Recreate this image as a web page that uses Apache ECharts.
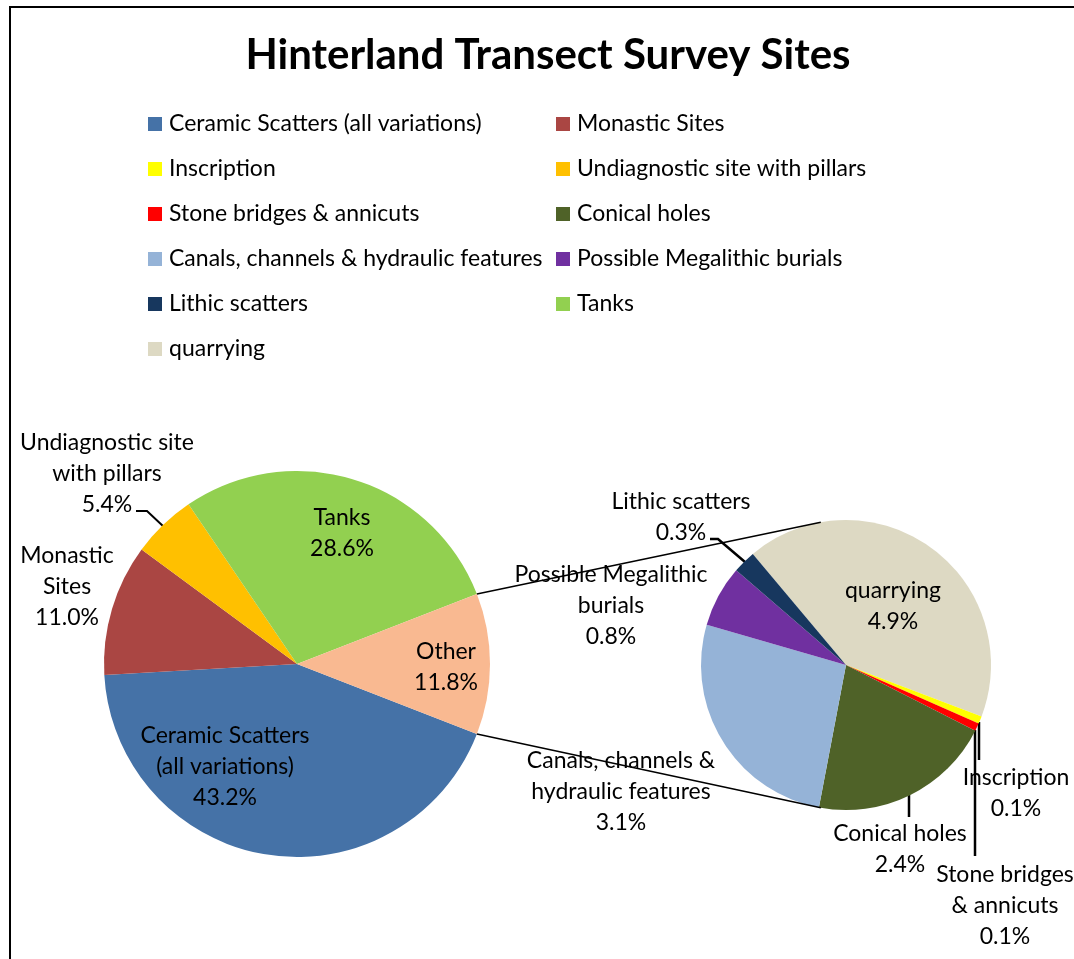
<!DOCTYPE html>
<html>
<head>
<meta charset="utf-8">
<script src="https://cdn.jsdelivr.net/npm/echarts@6/dist/echarts.min.js"></script>
<style>html,body{margin:0;padding:0;background:#fff}#c{width:1074px;height:959px}</style>
</head>
<body>
<div id="c"></div>
<script>
// ---- data ----
const titleText = 'Hinterland Transect Survey Sites';
const mainNames = ['Ceramic Scatters (all variations)', 'Monastic Sites', 'Undiagnostic site with pillars', 'Tanks', 'Other'];
const mainValues = [43.2, 11.0, 5.4, 28.6, 11.8];
const secNames = ['quarrying', 'Inscription', 'Stone bridges & annicuts', 'Conical holes', 'Canals, channels & hydraulic features', 'Possible Megalithic burials', 'Lithic scatters'];
const secValues = [4.9, 0.1, 0.1, 2.4, 3.1, 0.8, 0.3];
const legendLeft = ['Ceramic Scatters (all variations)', 'Inscription', 'Stone bridges & annicuts', 'Canals, channels & hydraulic features', 'Lithic scatters', 'quarrying'];
const legendRight = ['Monastic Sites', 'Undiagnostic site with pillars', 'Conical holes', 'Possible Megalithic burials', 'Tanks'];

// ---- styles ----
const colors = {
  'Ceramic Scatters (all variations)': '#4572A7',
  'Monastic Sites': '#AA4643',
  'Undiagnostic site with pillars': '#FFC000',
  'Tanks': '#92D050',
  'Other': '#F9B991',
  'quarrying': '#DDD9C3',
  'Inscription': '#FFFF00',
  'Stone bridges & annicuts': '#FF0000',
  'Conical holes': '#4F6228',
  'Canals, channels & hydraulic features': '#95B3D7',
  'Possible Megalithic burials': '#7030A0',
  'Lithic scatters': '#17375E'
};
const labelText = {
  'Ceramic Scatters (all variations)': 'Ceramic Scatters\n(all variations)',
  'Monastic Sites': 'Monastic\nSites',
  'Undiagnostic site with pillars': 'Undiagnostic site\nwith pillars',
  'Tanks': 'Tanks',
  'Other': 'Other',
  'quarrying': 'quarrying',
  'Inscription': 'Inscription',
  'Stone bridges & annicuts': 'Stone bridges\n& annicuts',
  'Conical holes': 'Conical holes',
  'Canals, channels & hydraulic features': 'Canals, channels &\nhydraulic features',
  'Possible Megalithic burials': 'Possible Megalithic\nburials',
  'Lithic scatters': 'Lithic scatters'
};
// label block centres and leader lines (layout only)
const labelPos = {
  'Ceramic Scatters (all variations)': [225, 767],
  'Monastic Sites': [67, 587],
  'Undiagnostic site with pillars': [107, 474, [[136, 511], [147, 511], [164, 527]]],
  'Tanks': [342, 533],
  'Other': [446, 667],
  'quarrying': [893, 606],
  'Inscription': [1016, 793, [[979, 760], [979, 722]]],
  'Stone bridges & annicuts': [1005, 906, [[975, 856], [975, 730]]],
  'Conical holes': [900, 849, [[909, 817], [909, 795]]],
  'Canals, channels & hydraulic features': [621, 792],
  'Possible Megalithic burials': [611, 606],
  'Lithic scatters': [681, 517, [[710, 539], [718, 539], [745, 562]]]
};
const FONT = 'Lato';
const MAIN_C = [297, 664], MAIN_R = 193;
const SEC_C = [846, 665], SEC_R = 145;
const SEC_TANGENT_DEG = 100;

function buildData(names, values) {
  return names.map((n, i) => ({
    name: n,
    value: values[i],
    itemStyle: { color: colors[n] },
    labelLine: { show: !!(labelPos[n] && labelPos[n][2]) }
  }));
}
function fmt(p) { return labelText[p.name] + '\n' + p.value.toFixed(1) + '%'; }
function layoutFn(names) {
  return function (params) {
    const n = names[params.dataIndex];
    const p = labelPos[n];
    const r = { x: p[0], y: p[1], align: 'center', verticalAlign: 'middle' };
    if (p[2]) r.labelLinePoints = p[2];
    return r;
  };
}

// connector lines computed from pie geometry
const mainSum = mainValues.reduce((a, b) => a + b, 0);
const otherHalf = mainValues[4] / mainSum * Math.PI; // half angle in radians
const secA = SEC_TANGENT_DEG * Math.PI / 180;
const connTop = {
  x1: MAIN_C[0] + MAIN_R * Math.cos(otherHalf), y1: MAIN_C[1] - MAIN_R * Math.sin(otherHalf),
  x2: SEC_C[0] + SEC_R * Math.cos(secA), y2: SEC_C[1] - SEC_R * Math.sin(secA)
};
const connBot = {
  x1: MAIN_C[0] + MAIN_R * Math.cos(otherHalf), y1: MAIN_C[1] + MAIN_R * Math.sin(otherHalf),
  x2: SEC_C[0] + SEC_R * Math.cos(secA), y2: SEC_C[1] + SEC_R * Math.sin(secA)
};

const labelStyle = {
  show: true, position: 'outside', formatter: fmt, color: '#000',
  fontFamily: FONT, fontSize: 23, lineHeight: 31
};
const legendCommon = {
  orient: 'vertical', itemWidth: 14, itemHeight: 14, itemGap: 0, padding: 0,
  icon: 'rect', selectedMode: false,
  textStyle: { fontFamily: FONT, fontSize: 23, lineHeight: 45, color: '#000', padding: [0, 0, 0, 2] }
};

const chart = echarts.init(document.getElementById('c'), null, { renderer: 'canvas' });
chart.setOption({
  animation: false,
  backgroundColor: '#fff',
  legend: [
    Object.assign({ left: 148, top: 101.5, data: legendLeft }, legendCommon),
    Object.assign({ left: 556, top: 101.5, data: legendRight }, legendCommon)
  ],
  graphic: [
    { type: 'rect', shape: { x: 10, y: 7, width: 1200, height: 1100 }, style: { fill: 'none', stroke: '#000', lineWidth: 2 }, silent: true, z: 0 },
    { type: 'text', x: 548, y: 55, silent: true, z: 100,
      style: { text: titleText, textAlign: 'center', textVerticalAlign: 'middle', fill: '#000',
               fontFamily: FONT, fontWeight: 'bold', fontSize: 42 } },
    { type: 'line', shape: connTop, style: { stroke: '#000', lineWidth: 1.5 }, z: 100, silent: true },
    { type: 'line', shape: connBot, style: { stroke: '#000', lineWidth: 1.5 }, z: 100, silent: true }
  ],
  series: [
    {
      type: 'pie', center: MAIN_C, radius: MAIN_R, clockwise: true,
      startAngle: -(mainValues[4] / mainSum * 180),
      avoidLabelOverlap: false, data: buildData(mainNames, mainValues),
      label: labelStyle,
      labelLine: { lineStyle: { color: '#000', width: 2 }, length: 10, length2: 10, smooth: false },
      labelLayout: layoutFn(mainNames),
      emphasis: { disabled: true }
    },
    {
      type: 'pie', center: SEC_C, radius: SEC_R, clockwise: true, startAngle: 130,
      avoidLabelOverlap: false, data: buildData(secNames, secValues),
      label: labelStyle,
      labelLine: { lineStyle: { color: '#000', width: 2.5 }, length: 10, length2: 10, smooth: false },
      labelLayout: layoutFn(secNames),
      emphasis: { disabled: true }
    }
  ]
});
</script>
</body>
</html>
